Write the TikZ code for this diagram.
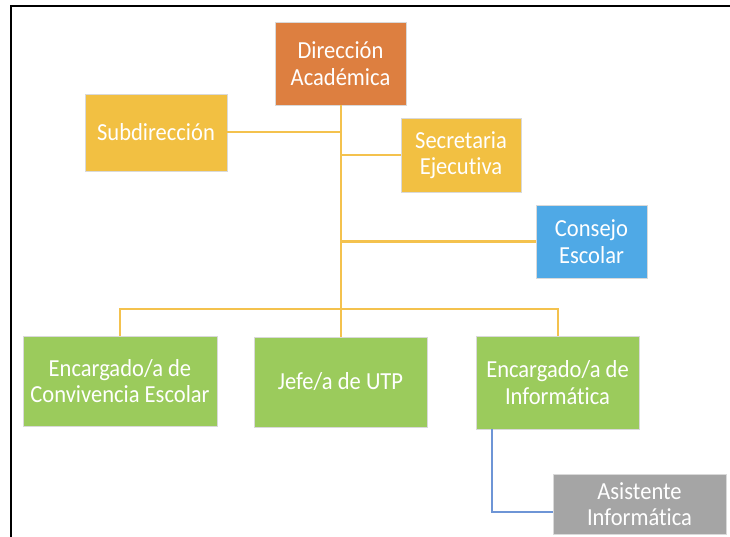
\documentclass[tikz,border=0pt]{standalone}
\usepackage{fontspec}
\setmainfont{Carlito}[FakeStretch=0.92, Ligatures={NoCommon}]
\definecolor{cOrange}{HTML}{DD7F40}
\definecolor{cYellow}{HTML}{F2C042}
\definecolor{cBlue}{HTML}{4FA9E6}
\definecolor{cGreen}{HTML}{9BCB5C}
\definecolor{cGray}{HTML}{A5A5A5}
\definecolor{cLine}{HTML}{F4C24E}
\definecolor{cBlueLine}{HTML}{6E95D6}
\tikzset{
  box/.style={rectangle, inner sep=2pt, align=center, text=white,
    font=\fontsize{24.5}{26.5}\selectfont, draw=white!85!black, line width=0.8pt},
  conn/.style={draw=cLine, line width=2pt},
  bconn/.style={draw=cBlueLine, line width=2pt},
  frameline/.style={draw=black, line width=2.8pt}
}
\begin{document}
\begin{tikzpicture}[x=1pt,y=-1pt]
\useasboundingbox (0,0) rectangle (730,537);
\fill[white] (0,0) rectangle (730,537);
% frame
\coordinate (fb) at (11,537);
\coordinate (fc) at (11,6);
\coordinate (fr) at (730,6);
\draw[frameline] (fb) -- (fc) -- (fr);
% nodes
\node[box, fill=cOrange, minimum width=131pt, minimum height=83pt] (dir) at (340.5,63.5) {Dirección\\Académica};
\node[box, fill=cYellow, minimum width=142pt, minimum height=77pt] (sub) at (156,132.5) {Subdirección};
\node[box, fill=cYellow, minimum width=120pt, minimum height=74pt] (sec) at (461,155) {Secretaria\\Ejecutiva};
\node[box, fill=cBlue, minimum width=111pt, minimum height=73pt] (con) at (591.5,241.5) {Consejo\\Escolar};
\node[box, fill=cGreen, minimum width=194pt, minimum height=90pt] (enc1) at (120,381) {Encargado/a de\\Convivencia Escolar};
\node[box, fill=cGreen, minimum width=173pt, minimum height=90pt] (jefe) at (340.5,382) {Jefe/a de UTP};
\node[box, fill=cGreen, minimum width=163pt, minimum height=93pt] (enc2) at (557.5,382.5) {Encargado/a de\\Informática};
\node[box, fill=cGray, minimum width=173pt, minimum height=60pt] (asis) at (639.5,504) {Asistente\\Informática};
% connectors
\coordinate (bar) at (340.5,309);
\draw[conn] (dir.south) -- (jefe.north);
\draw[conn] (sub.east) -- (sub.east -| dir.south);
\draw[conn] (sec.west) -- (sec.west -| dir.south);
\draw[conn] (con.west) -- (con.west -| dir.south);
\draw[conn] (enc1.north) |- (bar) -| (enc2.north);
\draw[bconn] ([xshift=16pt]enc2.south west) |- ([yshift=-8pt]asis.west);
\end{tikzpicture}
\end{document}
